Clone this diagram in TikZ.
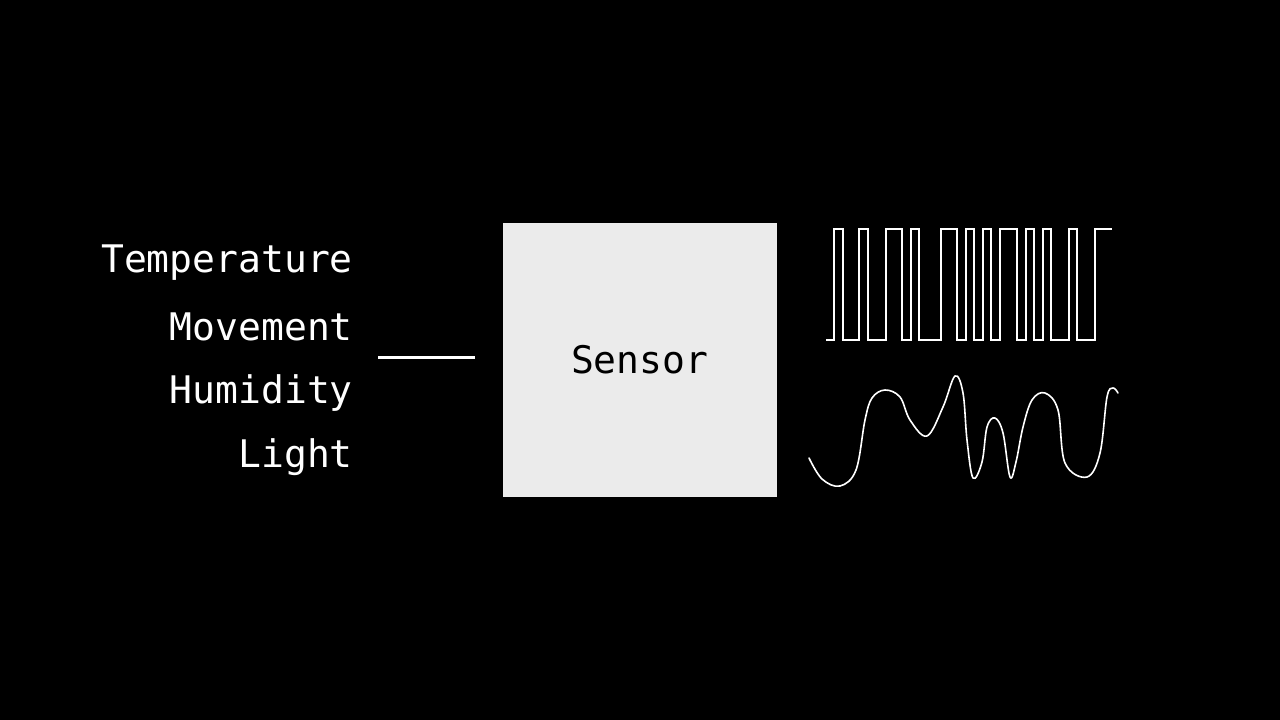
\documentclass[tikz,border=0pt]{standalone}
\usepackage{fontspec}
\setmonofont{DejaVu Sans Mono}
\begin{document}
\begin{tikzpicture}[x=1pt,y=-1pt,
  lbl/.style={anchor=base east,inner sep=0pt,text=white,font=\ttfamily\fontsize{38}{40}\selectfont},
  wave/.style={draw=white,line width=1.6pt,line join=round,line cap=round}]
\fill[black] (0,0) rectangle (1280,720);
\useasboundingbox (0,0) rectangle (1280,720);
\node[lbl] (t) at (353,272) {Temperature};
\node[lbl] (m) at (353,340) {Movement};
\node[lbl] (h) at (353,403) {Humidity};
\node[lbl] (l) at (353,467) {Light};
\node[draw=white!85!gray,fill={rgb,255:red,235;green,235;blue,235},minimum width=273,minimum height=273,inner sep=0pt,anchor=north west,
  text=black,font=\ttfamily\fontsize{38}{40}\selectfont] (s) at (503,223) {Sensor};
\coordinate (a) at (378,357);
\draw[white,line width=3pt] (a) -- (475,357);
\draw[white,line width=1.3pt,line join=miter] (826,340) -- (834,340) |- (843,229) |- (859,340) |- (868,229) |- (886,340) |- (902,229) |- (911,340) |- (919,229) |- (941,340) |- (957,229) |- (966,340) |- (974,229) |- (983,340) |- (991,229) |- (1000,340) |- (1017,229) |- (1026,340) |- (1034,229) |- (1043,340) |- (1051,229) |- (1069,340) |- (1077,229) |- (1095,340) |- (1112,229);
\draw[wave] plot[smooth,tension=0.6] coordinates {(809,458) (822,479) (840,486) (856,470) (865,420) (872,398) (885,390) (900,397) (910,420) (927,436) (943,407) (955,376) (963,393) (967,440) (973,478) (982,462) (987,427) (995,418) (1003,433) (1010,477) (1016,462) (1023,427) (1032,400) (1045,393) (1058,410) (1065,463) (1087,477) (1100,453) (1107,397) (1113,388) (1118,393)};
\end{tikzpicture}
\end{document}
